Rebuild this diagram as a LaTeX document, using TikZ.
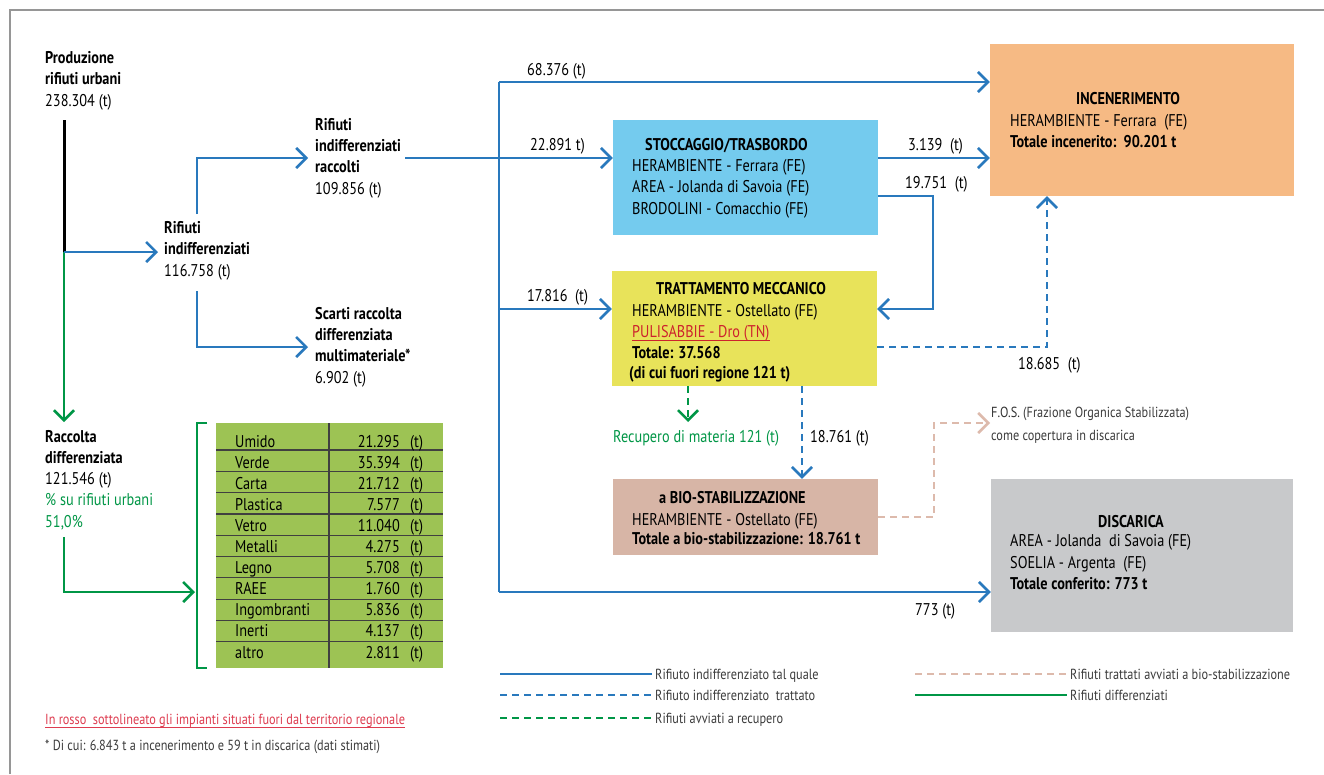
\documentclass[tikz,border=0pt]{standalone}
\usepackage{fontspec}
\setmainfont{PT Sans}[FakeStretch=0.84]
\usetikzlibrary{arrows.meta}
\definecolor{lblue}{RGB}{41,121,189}
\definecolor{dgreen}{RGB}{0,150,70}
\definecolor{pinkd}{RGB}{221,186,172}
\definecolor{stocc}{RGB}{116,203,238}
\definecolor{tratc}{RGB}{232,227,90}
\definecolor{incc}{RGB}{246,186,132}
\definecolor{bioc}{RGB}{215,181,166}
\definecolor{discc}{RGB}{200,201,203}
\definecolor{tabc}{RGB}{157,195,84}
\definecolor{redt}{RGB}{205,35,45}
\definecolor{redf}{RGB}{222,60,80}
\definecolor{legt}{RGB}{60,60,60}
\definecolor{framec}{RGB}{150,150,150}
\begin{document}
\begin{tikzpicture}[x=1pt,y=-1pt,
  txt/.style={inner sep=0pt, align=left, anchor=base west, font=\fontsize{17}{21.2}\selectfont},
  btxt/.style={txt, font=\fontsize{17}{21.2}\selectfont\bfseries},
  small/.style={inner sep=0pt, align=left, anchor=base west, font=\fontsize{14.6}{23}\selectfont, text=legt},
  bl/.style={draw=lblue, line width=2.6pt},
  gl/.style={draw=dgreen, line width=2.6pt},
  bdash/.style={bl, dash pattern=on 7pt off 5pt},
  gdash/.style={gl, dash pattern=on 7pt off 5pt},
  pdash/.style={draw=pinkd, line width=2.6pt, dash pattern=on 7pt off 5pt},
  arr/.style={-{Straight Barb[length=10pt,width=20pt]}},
  box/.style={inner sep=0pt, draw=none},
  rowline/.style={draw=black!75, line width=1.2pt}
]
\useasboundingbox (0,0) rectangle (1324,774);
\fill[white] (0,0) rectangle (1324,774);
% frame
\draw[framec, line width=1.5pt] (10,774) -- (10,10) -- (1324,10);

% left column texts (base anchor = baseline of last line)
\node[txt] (prod) at (45,106) {\textbf{Produzione}\\\textbf{rifiuti urbani}\\238.304 (t)};
\node[txt] (rind) at (164,276) {\textbf{Rifiuti}\\\textbf{indifferenziati}\\116.758 (t)};
\node[txt] (racc) at (315,194) {\textbf{Rifiuti}\\\textbf{indifferenziati}\\\textbf{raccolti}\\109.856 (t)};
\node[txt] (scar) at (315,383) {\textbf{Scarti raccolta}\\\textbf{differenziata}\\\textbf{multimateriale*}\\6.902 (t)};
\node[txt] (rd) at (45,527) {\textbf{Raccolta}\\\textbf{differenziata}\\121.546 (t)\\\textcolor{dgreen}{\% su rifiuti urbani}\\\textcolor{dgreen}{51,0\%}};

% boxes
\node[box, fill=stocc, minimum width=265pt, minimum height=115pt] (stoc) at (745.5,177.5) {};
\node[box, fill=tratc, minimum width=265pt, minimum height=115pt] (trat) at (744.5,328.5) {};
\node[box, fill=incc, minimum width=304pt, minimum height=152pt] (inc) at (1142,120) {};
\node[box, fill=bioc, minimum width=265pt, minimum height=76pt] (bio) at (745.5,517) {};
\node[box, fill=discc, minimum width=302pt, minimum height=153pt] (disc) at (1142,555.5) {};

% box texts
\node[btxt] (stocT) at (645,150) {STOCCAGGIO/TRASBORDO};
\node[txt] (stocB) at (632,214) {HERAMBIENTE - Ferrara (FE)\\AREA - Jolanda di Savoia (FE)\\BRODOLINI - Comacchio (FE)};
\node[btxt] (tratT) at (656,294) {TRATTAMENTO MECCANICO};
\node[txt] (tratB1) at (632,316) {HERAMBIENTE - Ostellato (FE)};
\node[txt, text=redt] (tratB2) at (632,337) {PULISABBIE - Dro (TN)};
\draw[redt, line width=1pt] ([yshift=-3pt]tratB2.base west) -- ([yshift=-3pt]tratB2.base east);
\node[btxt] (tratB3) at (632,358) {Totale: 37.568};
\node[btxt] (tratB4) at (629,378) {(di cui fuori regione 121 t)};
\node[btxt] (incT) at (1076,104) {INCENERIMENTO};
\node[txt] (incB1) at (1010,126) {HERAMBIENTE - Ferrara\ \ (FE)};
\node[btxt] (incB2) at (1010,147) {Totale incenerito:\ \ 90.201 t};
\node[btxt] (bioT) at (659,503) {a BIO-STABILIZZAZIONE};
\node[txt] (bioB1) at (632,525) {HERAMBIENTE - Ostellato (FE)};
\node[btxt] (bioB2) at (632,544) {Totale a bio-stabilizzazione: 18.761 t};
\node[btxt] (discT) at (1098,527) {DISCARICA};
\node[txt] (discB1) at (1010,568) {AREA - Jolanda\ \ di Savoia (FE)\\SOELIA - Argenta\ \ (FE)};
\node[btxt] (discB2) at (1010,589) {Totale conferito: 773 t};

% flow labels
\node[txt] (l1) at (527,75) {68.376 (t)};
\node[txt] (l2) at (530,150) {22.891 t)};
\node[txt] (l3) at (527,301) {17.816\ \ (t)};
\node[txt] (l4) at (908,150) {3.139\ \ (t)};
\node[txt] (l5) at (905,188) {19.751\ \ (t)};
\node[txt] (l6) at (1018,369) {18.685\ \ (t)};
\node[txt] (l7) at (810,442) {18.761 (t)};
\node[txt, text=dgreen] (rec) at (613,442) {Recupero di materia 121 (t)};
\node[txt] (l8) at (915,615) {773 (t)};
\node[small] (fos) at (991,440) {\textcolor{black!80}{F.O.S.} (Frazione Organica Stabilizzata)\\come copertura in discarica};

% connectors left
\coordinate (p1) at (64,120);
\coordinate (j1) at (64,252);
\coordinate (riIn) at (158,252);
\coordinate (rdIn) at (64,422);
\draw[black, line width=3pt] (p1) -- (j1);
\draw[gl, arr] (j1) -- (rdIn);
\draw[bl, arr] (j1) -- (riIn);
\coordinate (riUp) at (197,214);
\coordinate (racIn) at (308,158);
\coordinate (riDn) at (197,291);
\coordinate (scIn) at (308,347);
\draw[bl, arr] (riUp) |- (racIn);
\draw[bl, arr] (riDn) |- (scIn);

% trunk
\coordinate (racOut) at (405,158);
\coordinate (tr1) at (499,82);
\coordinate (tr3) at (499,309);
\coordinate (tr4) at (499,592);
\draw[bl] (tr1) -- (tr4);
\draw[bl, arr] (tr1) -- (inc.west |- tr1);
\draw[bl, arr] (racOut) -- (stoc.west |- racOut);
\draw[bl, arr] (tr3) -- (trat.west |- tr3);
\draw[bl, arr] (tr4) -- (disc.west |- tr4);
\draw[bl, arr] (stoc.east |- racOut) -- (inc.west |- racOut);
\coordinate (lp) at (933,196);
\draw[bl, arr] (stoc.east |- lp) -- (lp) |- (trat.east |- tr3);
\coordinate (dd) at (1047,347);
\draw[bdash, arr] (trat.east |- dd) -| (inc.south -| dd);
\coordinate (gd) at (688,422);
\draw[gdash, arr] (trat.south -| gd) -- (gd);
\coordinate (bd) at (802,400);
\draw[bdash, arr] (trat.south -| bd) -- (bio.north -| bd);
\coordinate (pk) at (934,517);
\coordinate (fosIn) at (990,423);
\draw[pdash, arr] (bio.east |- pk) -- (pk) |- (fosIn);

% table
\node[box, fill=tabc, minimum width=227pt, minimum height=245pt] (tab) at (329.5,545.5) {};
\draw[rowline] (329,423) -- (329,668);
\foreach \yy in {450,471.3,492.6,513.9,535.2,556.5,577.8,599.1,620.4,641.7} {
  \draw[rowline] (216,\yy) -- (443,\yy);
}
\foreach \nm/\vv [count=\i from 0] in {Umido/21.295, Verde/35.394, Carta/21.712, Plastica/7.577, Vetro/11.040, Metalli/4.275, Legno/5.708, RAEE/1.760, Ingombranti/5.836, Inerti/4.137, altro/2.811} {
  \node[txt] (tn\i) at (235,447+21.1*\i) {\nm};
  \node[txt, anchor=base east] (tv\i) at (400,447+21.1*\i) {\vv};
  \node[txt] (tt\i) at (410,447+21.1*\i) {(t)};
}
% bracket
\coordinate (bkTop) at (207,423);
\coordinate (bkBot) at (207,668);
\draw[dgreen, line width=1.5pt] (bkTop) -- (197,423) -- (197,668) -- (bkBot);
\coordinate (rdOut) at (64,537);
\coordinate (bkIn) at (195,592);
\draw[gl, arr] (rdOut) |- (bkIn);

% legend
\coordinate (lgA1) at (500,674); \coordinate (lgA2) at (652,674);
\coordinate (lgB1) at (500,695); \coordinate (lgB2) at (652,695);
\coordinate (lgC1) at (500,718); \coordinate (lgC2) at (652,718);
\coordinate (lgD1) at (915,674); \coordinate (lgD2) at (1067,674);
\coordinate (lgE1) at (915,695); \coordinate (lgE2) at (1067,695);
\draw[bl] (lgA1) -- (lgA2);
\draw[bdash] (lgB1) -- (lgB2);
\draw[gdash] (lgC1) -- (lgC2);
\draw[pdash] (lgD1) -- (lgD2);
\draw[gl] (lgE1) -- (lgE2);
\node[small] (lgtA) at (655,679) {Rifiuto indifferenziato tal quale};
\node[small] (lgtB) at (655,700) {Rifiuto indifferenziato\ \ trattato};
\node[small] (lgtC) at (655,723) {Rifiuti avviati a recupero};
\node[small] (lgtD) at (1070,679) {Rifiuti trattati avviati a bio-stabilizzazione};
\node[small] (lgtE) at (1070,700) {Rifiuti differenziati};

% footnotes
\node[small, text=redf] (fn1) at (45,724) {In rosso\ \ sottolineato gli impianti situati fuori dal territorio regionale};
\draw[redf, line width=0.8pt] ([yshift=-3pt]fn1.base west) -- ([yshift=-3pt]fn1.base east);
\node[small] (fn2) at (45,750) {* Di cui: 6.843 t a incenerimento e 59 t in discarica (dati stimati)};
\end{tikzpicture}
\end{document}
